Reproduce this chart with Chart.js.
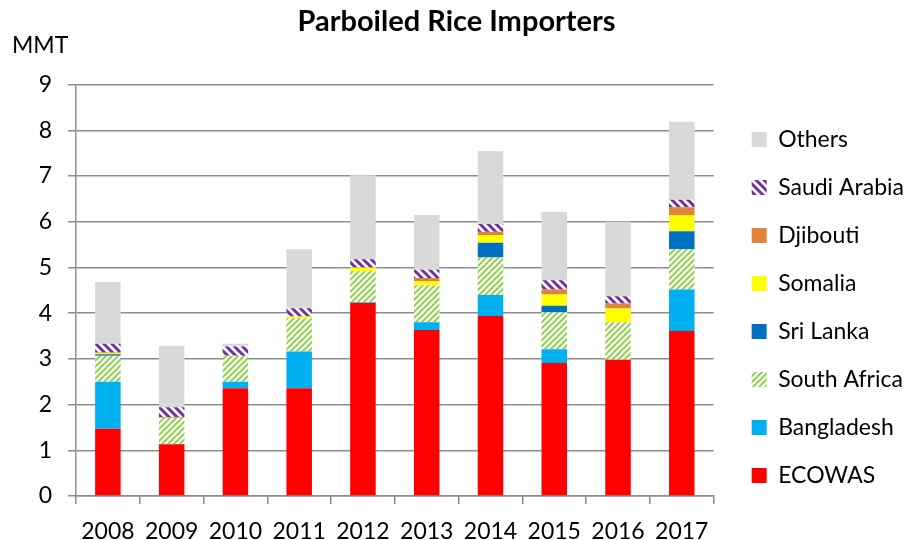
<!DOCTYPE html>
<html>
<head>
<meta charset="utf-8">
<script src="https://cdn.jsdelivr.net/npm/chart.js@4.4.1/dist/chart.umd.min.js"></script>
<style>
html,body{margin:0;padding:0;background:#fff;}
#wrap{width:912px;height:540px;position:relative;}
</style>
</head>
<body>
<div id="wrap"><canvas id="c"></canvas></div>
<script>
// ---- data (million metric tons) ----
const years = ['2008','2009','2010','2011','2012','2013','2014','2015','2016','2017'];
const ecowas      = [1.47, 1.13, 2.36, 2.36, 4.22, 3.63, 3.94, 2.91, 2.98, 3.61];
const bangladesh  = [1.03, 0.00, 0.14, 0.80, 0.02, 0.17, 0.46, 0.30, 0.00, 0.91];
const southAfrica = [0.57, 0.58, 0.57, 0.73, 0.68, 0.81, 0.82, 0.81, 0.82, 0.88];
const sriLanka    = [0.03, 0.00, 0.00, 0.00, 0.00, 0.00, 0.32, 0.14, 0.00, 0.39];
const somalia     = [0.03, 0.00, 0.00, 0.04, 0.08, 0.09, 0.17, 0.25, 0.30, 0.36];
const djibouti    = [0.01, 0.02, 0.00, 0.00, 0.00, 0.07, 0.07, 0.11, 0.11, 0.17];
const saudiArabia = [0.19, 0.21, 0.20, 0.18, 0.18, 0.18, 0.17, 0.20, 0.16, 0.16];
const others      = [1.35, 1.35, 0.06, 1.29, 1.84, 1.20, 1.60, 1.50, 1.63, 1.71];
const yTicks = [0,1,2,3,4,5,6,7,8,9];

const FONT = 'Lato, Carlito, "Open Sans", sans-serif';
const GRID = '#8c8c8c';

function stripes(color, size, width, down) {
  const t = document.createElement('canvas');
  t.width = size; t.height = size;
  const g = t.getContext('2d');
  g.fillStyle = '#ffffff';
  g.fillRect(0, 0, size, size);
  g.strokeStyle = color;
  g.lineWidth = width;
  g.lineCap = 'square';
  for (let k = -1; k <= 1; k++) {
    g.beginPath();
    if (down) { g.moveTo(k*size, 0); g.lineTo(k*size + size, size); }
    else { g.moveTo(k*size, size); g.lineTo(k*size + size, 0); }
    g.stroke();
  }
  return g.createPattern(t, 'repeat');
}
const greenPattern = stripes('#92D050', 6, 2, false);
const purplePattern = stripes('#7030A0', 8, 3, true);

const legendNudge = {
  id: 'legendNudge',
  afterLayout(chart) {
    const l = chart.legend;
    if (!l) return;
    const dx = chart.chartArea.right + 13 - l.left;
    l.left += dx; l.right += dx;
    l.top += 28; l.bottom += 28;
  }
};

const mk = (label, data, color) => ({label, data, backgroundColor: color, borderWidth: 0,
  barPercentage: 0.4, categoryPercentage: 1.0});

new Chart(document.getElementById('c'), {
  type: 'bar',
  data: {
    labels: years,
    datasets: [
      mk('ECOWAS', ecowas, '#FF0000'),
      mk('Bangladesh', bangladesh, '#00B0F0'),
      mk('South Africa', southAfrica, greenPattern),
      mk('Sri Lanka', sriLanka, '#0070C0'),
      mk('Somalia', somalia, '#FFFF00'),
      mk('Djibouti', djibouti, '#E0843C'),
      mk('Saudi Arabia', saudiArabia, purplePattern),
      mk('Others', others, '#D9D9D9')
    ]
  },
  options: {
    responsive: true,
    maintainAspectRatio: false,
    animation: false,
    layout: {padding: {left: 12, right: 11, top: 0, bottom: -19}},
    plugins: {
      title: {display: true, text: 'Parboiled Rice Importers', color: '#000',
        font: {family: FONT, size: 29, weight: 'bold', lineHeight: 0.85}, padding: {top: 9, bottom: 0}},
      subtitle: {display: true, text: 'MMT', align: 'start', color: '#000',
        font: {family: FONT, size: 23, lineHeight: 1}, padding: {top: 0, bottom: 28}},
      legend: {position: 'right', reverse: true,
        labels: {boxWidth: 15, boxHeight: 15, padding: 25, color: '#000',
          font: {family: FONT, size: 23}}},
      tooltip: {enabled: false}
    },
    scales: {
      x: {stacked: true,
        grid: {drawOnChartArea: false, offset: true, tickLength: 8, color: GRID, lineWidth: 1.5},
        border: {color: GRID, width: 1.5},
        ticks: {color: '#000', padding: 16, font: {family: FONT, size: 23, lineHeight: 1}}},
      y: {stacked: true, min: 0, max: 9,
        afterBuildTicks(s) { s.ticks = yTicks.map(v => ({value: v})); },
        afterFit(s) { s.width = 64; },
        grid: {tickLength: 8, color: GRID, lineWidth: 1.5},
        border: {color: GRID, width: 1.5},
        ticks: {color: '#000', padding: 16, font: {family: FONT, size: 23}}}
    }
  },
  plugins: [legendNudge]
});
</script>
</body>
</html>
